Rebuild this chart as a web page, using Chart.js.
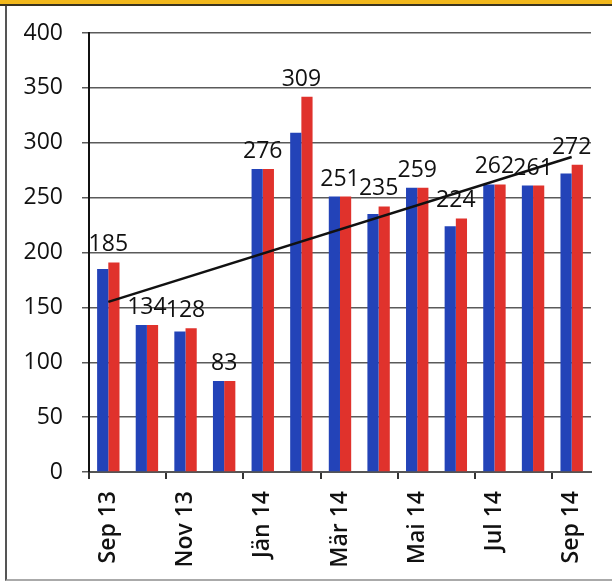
<!DOCTYPE html>
<html>
<head>
<meta charset="utf-8">
<script src="https://cdn.jsdelivr.net/npm/chart.js@4"></script>
<style>
  body { margin: 0; background: #fff; }
  #wrap { position: relative; width: 612px; height: 584px; overflow: hidden; }
  #topbar { position: absolute; left: 0; top: 0; width: 612px; height: 4px; background: #f2b81c; border-bottom: 2px solid #3a3320; }
  #frame { position: absolute; left: 5px; top: 6px; width: 620px; height: 573px; border-left: 2px solid #555; border-bottom: 2px solid #aaa; }
  canvas { position: absolute; left: 0; top: 0; }
</style>
</head>
<body>
<div id="wrap">
  <div id="topbar"></div>
  <div id="frame"></div>
  <canvas id="chart" width="612" height="584"></canvas>
</div>
<script>
// months Sep 13 .. Sep 14
var months = ['Sep 13', 'Okt 13', 'Nov 13', 'Dez 13', 'Jän 14', 'Feb 14', 'Mär 14',
              'Apr 14', 'Mai 14', 'Jun 14', 'Jul 14', 'Aug 14', 'Sep 14'];
var blueValues = [185, 134, 128, 83, 276, 309, 251, 235, 259, 224, 262, 261, 272];
var redValues = [191, 134, 131, 83, 276, 342, 251, 242, 259, 231, 262, 261, 280];
// trend line end points
var trendValues = [155, null, null, null, null, null, null, null, null, null, null, null, 287];
var yTicks = [0, 50, 100, 150, 200, 250, 300, 350, 400];

var fontFamily = "'Open Sans', 'Noto Sans', sans-serif";

var valueLabels = {
    id: 'valueLabels',
    afterDatasetsDraw: function (chart) {
        var ctx = chart.ctx;
        var xs = chart.scales.x;
        var ys = chart.scales.y;
        ctx.save();
        ctx.font = '500 23px ' + fontFamily;
        ctx.fillStyle = '#111';
        ctx.textAlign = 'center';
        ctx.textBaseline = 'alphabetic';
        for (var i = 0; i < blueValues.length; i++) {
            var top = Math.max(blueValues[i], redValues[i]);
            ctx.fillText(String(blueValues[i]), xs.getPixelForValue(i), ys.getPixelForValue(top) - 11);
        }
        ctx.restore();
    }
};

var ctx = document.getElementById('chart');
var myChart = new Chart(ctx, {
    type: 'bar',
    data: {
        labels: months,
        datasets: [
            {
                data: blueValues,
                backgroundColor: '#2343b8',
                categoryPercentage: 0.58,
                barPercentage: 1.0,
                order: 2
            },
            {
                data: redValues,
                backgroundColor: '#e0322c',
                categoryPercentage: 0.58,
                barPercentage: 1.0,
                order: 2
            },
            {
                type: 'line',
                data: trendValues,
                borderColor: '#111',
                borderWidth: 2.5,
                pointRadius: 0,
                spanGaps: true,
                fill: false,
                order: 1
            }
        ]
    },
    options: {
        responsive: false,
        animation: false,
        devicePixelRatio: 1,
        layout: { padding: { left: 0, top: 33, right: 19, bottom: 0 } },
        plugins: {
            legend: { display: false },
            tooltip: { enabled: false }
        },
        scales: {
            x: {
                grid: {
                    offset: true,
                    drawOnChartArea: false,
                    tickLength: 7,
                    lineWidth: 2,
                    tickColor: function (c) { return c.index % 2 === 0 ? '#333' : 'rgba(0,0,0,0)'; }
                },
                border: { color: '#555', width: 2 },
                ticks: {
                    autoSkip: false,
                    maxRotation: 90,
                    minRotation: 90,
                    padding: 12,
                    color: '#111',
                    font: { family: fontFamily, size: 23, weight: '600' },
                    callback: function (v, i) { return i % 2 === 0 ? months[i] : ''; }
                },
                afterFit: function (s) { s.height = 112; }
            },
            y: {
                min: yTicks[0],
                max: yTicks[yTicks.length - 1],
                afterBuildTicks: function (s) { s.ticks = yTicks.map(function (v) { return { value: v }; }); },
                grid: { color: '#5a5a5a', lineWidth: 1.5, tickLength: 7 },
                border: { color: '#111', width: 2 },
                ticks: {
                    padding: 19,
                    color: '#111',
                    font: { family: fontFamily, size: 23 }
                },
                afterFit: function (s) { s.width = 89; }
            }
        }
    },
    plugins: [valueLabels]
});
</script>
</body>
</html>
